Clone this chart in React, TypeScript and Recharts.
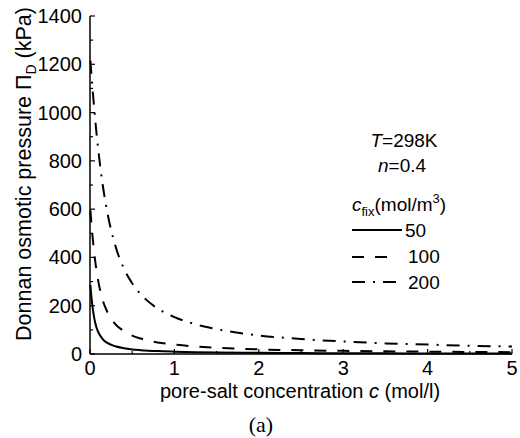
import { LineChart, Line, XAxis, YAxis } from 'recharts'

// pore-salt concentration c (mol/l)
const concentration = [0.005, 0.01, 0.02, 0.03, 0.05, 0.075, 0.1, 0.15, 0.2, 0.3, 0.4, 0.5, 0.6, 0.8, 1, 1.25, 1.5, 2, 2.5, 3, 3.5, 4, 4.5, 5]
// Donnan osmotic pressure (kPa) for each c_fix
const cfix50 = [286, 264, 226, 195, 149, 112, 89, 62, 47, 32, 24, 19, 16, 12, 9.7, 7.7, 6.5, 4.8, 3.9, 3.2, 2.8, 2.4, 2.2, 1.9]
const cfix100 = [595, 572, 528, 488, 419, 351, 298, 224, 178, 124, 95, 76, 64, 48, 39, 31, 26, 19, 15.5, 13, 11, 9.7, 8.6, 7.7]
const cfix200 = [1215, 1190, 1144, 1099, 1016, 922, 839, 702, 596, 449, 355, 293, 248, 189, 153, 123, 103, 77, 62, 52, 44, 39, 34, 31]

const xTicks = [0, 0.5, 1, 1.5, 2, 2.5, 3, 3.5, 4, 4.5, 5]
const yTicks = [0, 100, 200, 300, 400, 500, 600, 700, 800, 900, 1000, 1100, 1200, 1300, 1400]

const data = concentration.map((c, i) => ({
  c,
  s50: cfix50[i],
  s100: cfix100[i],
  s200: cfix200[i],
}))

const FONT = '"Liberation Sans", Arial, sans-serif'
const DASH = '12 11'
const DASHDOT = '13 8 2 8'

function YTick(props: any) {
  const { x, y, payload } = props
  const v = payload.value
  const major = v % 200 === 0
  const ax = x + 8
  return (
    <g>
      <line x1={ax} x2={ax + (major ? 5 : 3)} y1={y} y2={y} stroke="#000" strokeWidth={1.2} />
      {major && (
        <text x={x} y={y} dy={7} textAnchor="end" fontSize={20} fontFamily={FONT} fill="#000">
          {v}
        </text>
      )}
    </g>
  )
}

function XTick(props: any) {
  const { x, y, payload } = props
  const v = payload.value
  const major = Number.isInteger(v)
  const ay = y - 8
  return (
    <g>
      <line x1={x} x2={x} y1={ay} y2={ay - (major ? 5 : 3)} stroke="#000" strokeWidth={1.2} />
      {major && (
        <text x={x} y={y} dy={13} textAnchor="middle" fontSize={20} fontFamily={FONT} fill="#000">
          {v}
        </text>
      )}
    </g>
  )
}

export default function App() {
  return (
    <div style={{ position: 'absolute', left: 0, top: 0, width: 520, height: 438, background: '#fff' }}>
      <LineChart width={520} height={438} data={data} margin={{ top: 16, right: 8, bottom: 0, left: 0 }}>
        <XAxis
          dataKey="c"
          type="number"
          domain={[0, 5]}
          ticks={xTicks}
          interval={0}
          height={84}
          tickSize={0}
          tickMargin={8}
          tick={<XTick />}
          axisLine={{ stroke: '#000', strokeWidth: 1.5 }}
          tickLine={false}
        />
        <YAxis
          type="number"
          domain={[0, 1400]}
          ticks={yTicks}
          interval={0}
          width={90}
          tickSize={0}
          tickMargin={8}
          tick={<YTick />}
          axisLine={{ stroke: '#000', strokeWidth: 1.5 }}
          tickLine={false}
        />
        <Line type="monotone" dataKey="s50" stroke="#000" strokeWidth={2} dot={false} isAnimationActive={false} />
        <Line type="monotone" dataKey="s100" stroke="#000" strokeWidth={2} strokeDasharray={DASH} dot={false} isAnimationActive={false} />
        <Line type="monotone" dataKey="s200" stroke="#000" strokeWidth={2} strokeDasharray={DASHDOT} dot={false} isAnimationActive={false} />
      </LineChart>

      {/* titles and in-plot legend */}
      <svg width={520} height={438} style={{ position: 'absolute', left: 0, top: 0, pointerEvents: 'none' }}>
        <text
          transform="translate(31,174) rotate(-90)"
          textAnchor="middle"
          fontSize={21.5}
          fontFamily={FONT}
          fill="#000"
        >
          Donnan osmotic pressure Π<tspan fontSize={14} dy={5}>D</tspan>
          <tspan dy={-5}> (kPa)</tspan>
        </text>
        <text x={300} y={398} textAnchor="middle" fontSize={20} fontFamily={FONT} fill="#000">
          pore-salt concentration <tspan fontStyle="italic">c</tspan> (mol/l)
        </text>
        <text x={261} y={432} textAnchor="middle" fontSize={22} fontFamily='"Liberation Serif", "Times New Roman", serif' fill="#000">
          (a)
        </text>

        <g fontFamily={FONT} fontSize={19} fill="#000">
          <text x={404} y={147} textAnchor="middle">
            <tspan fontStyle="italic">T</tspan>=298K
          </text>
          <text x={402} y={172} textAnchor="middle">
            <tspan fontStyle="italic">n</tspan>=0.4
          </text>
          <text x={352} y={211}>
            <tspan fontStyle="italic">c</tspan>
            <tspan fontSize={13} dy={5}>fix</tspan>
            <tspan dy={-5}>(mol/m</tspan>
            <tspan fontSize={13} dy={-8}>3</tspan>
            <tspan dy={8}>)</tspan>
          </text>
          <line x1={352} x2={402} y1={230} y2={230} stroke="#000" strokeWidth={2} />
          <text x={405} y={237}>50</text>
          <line x1={352} x2={389} y1={257} y2={257} stroke="#000" strokeWidth={2} strokeDasharray={DASH} />
          <text x={408} y={263}>100</text>
          <line x1={352} x2={396} y1={282} y2={282} stroke="#000" strokeWidth={2} strokeDasharray={DASHDOT} />
          <text x={408} y={289}>200</text>
        </g>
      </svg>
    </div>
  )
}
